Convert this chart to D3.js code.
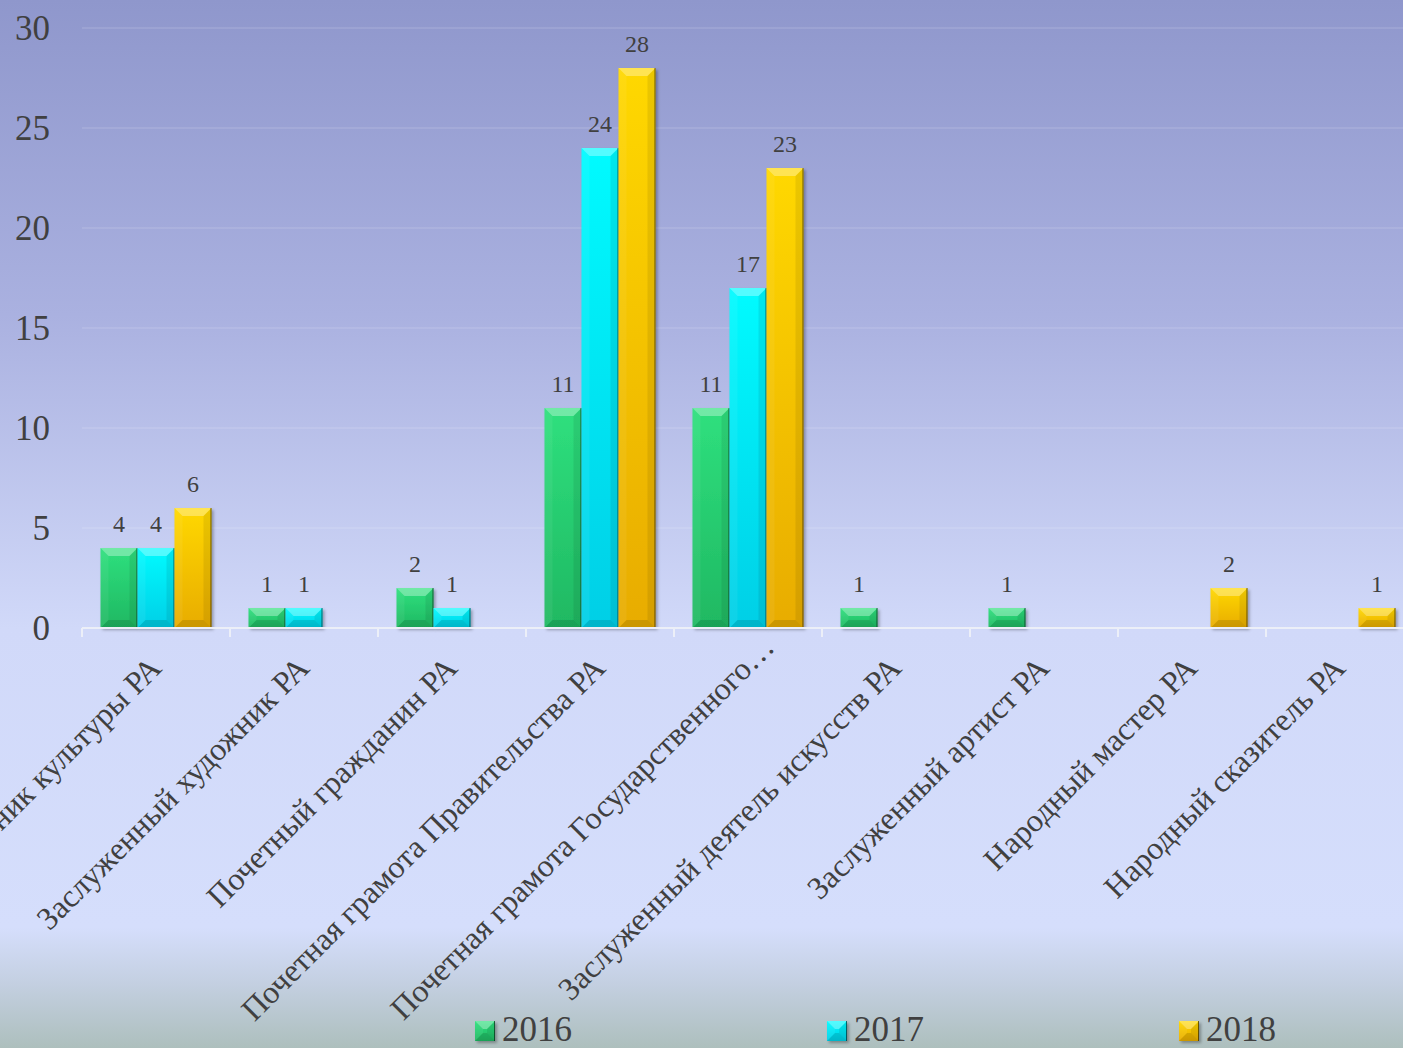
<!DOCTYPE html>
<html>
<head>
<meta charset="utf-8">
<script src="https://cdn.jsdelivr.net/npm/d3@7"></script>
<style>
  html, body { margin: 0; padding: 0; overflow: hidden; }
  svg { display: block; font-family: "Liberation Serif", "Times New Roman", serif; }
</style>
</head>
<body>
<div id="chart"></div>
<script>
// data
const categories = [
  "Заслуженный работник культуры РА",
  "Заслуженный художник РА",
  "Почетный гражданин РА",
  "Почетная грамота Правительства РА",
  "Почетная грамота Государственного…",
  "Заслуженный деятель искусств РА",
  "Заслуженный артист РА",
  "Народный мастер РА",
  "Народный сказитель РА"
];
const years = ["2016", "2017", "2018"];
const values2016 = [4, 1, 2, 11, 11, 1, 1, null, null];
const values2017 = [4, 1, 1, 24, 17, null, null, null, null];
const values2018 = [6, null, null, 28, 23, null, null, 2, 1];
const yTicks = [0, 5, 10, 15, 20, 25, 30];

const width = 1403;
const height = 1048;
const plot = { left: 82, top: 28, bottom: 628, step: 148 };

const seriesColors = {
  "2016": { top: "#2fe07e", bottom: "#1fb862" },
  "2017": { top: "#00fbff", bottom: "#00cfe6" },
  "2018": { top: "#ffd800", bottom: "#e8ac00" }
};

const series = years.map((yr, i) => ({
  year: yr,
  values: [values2016, values2017, values2018][i]
}));

const svg = d3.select("#chart")
  .append("svg")
  .attr("width", width)
  .attr("height", height);

const defs = svg.append("defs");

// background
const bg = defs.append("linearGradient")
  .attr("id", "bg")
  .attr("x1", 0).attr("y1", 0).attr("x2", 0).attr("y2", 1);
[[0, "#8f97cc"], [0.3, "#aab1e0"], [0.6, "#d1d9f9"], [0.885, "#d5defc"], [0.94, "#c3cfe0"], [1, "#adbfbd"]]
  .forEach(([o, c]) => bg.append("stop").attr("offset", o).attr("stop-color", c));

years.forEach(yr => {
  const g = defs.append("linearGradient")
    .attr("id", "grad" + yr)
    .attr("x1", 0).attr("y1", 0).attr("x2", 0).attr("y2", 1);
  g.append("stop").attr("offset", 0).attr("stop-color", seriesColors[yr].top);
  g.append("stop").attr("offset", 1).attr("stop-color", seriesColors[yr].bottom);
});

const shadow = defs.append("filter")
  .attr("id", "shadow")
  .attr("x", "-20%").attr("y", "-20%").attr("width", "150%").attr("height", "150%");
shadow.append("feDropShadow")
  .attr("dx", 2).attr("dy", 2)
  .attr("stdDeviation", 1.5)
  .attr("flood-color", "#000")
  .attr("flood-opacity", 0.3);

svg.append("rect")
  .attr("width", width)
  .attr("height", height)
  .attr("fill", "url(#bg)");

// scales
const x = d3.scaleBand()
  .domain(categories)
  .range([plot.left, plot.left + categories.length * plot.step])
  .paddingInner(0.25)
  .paddingOuter(0.125);

const x1 = d3.scaleBand()
  .domain(years)
  .range([0, x.bandwidth()]);

const y = d3.scaleLinear()
  .domain([0, 30])
  .range([plot.bottom, plot.top]);

// gridlines
svg.append("g")
  .selectAll("line")
  .data(yTicks.filter(d => d > 0))
  .join("line")
  .attr("x1", plot.left)
  .attr("x2", width)
  .attr("y1", d => y(d))
  .attr("y2", d => y(d))
  .attr("stroke", "#ffffff")
  .attr("stroke-opacity", 0.1)
  .attr("stroke-width", 2);

// y axis labels
const yAxis = svg.append("g")
  .attr("transform", `translate(${plot.left - 32},0)`)
  .call(d3.axisLeft(y).tickValues(yTicks).tickSize(0).tickPadding(0));
yAxis.select(".domain").remove();
yAxis.selectAll("text")
  .attr("font-family", "Liberation Serif, Times New Roman, serif")
  .attr("font-size", 35)
  .attr("fill", "#404040");

// bars
function bevelBar(g, x0, y0, w, h, fillId) {
  const b = Math.min(8, h / 2, w / 2);
  g.append("rect")
    .attr("x", x0).attr("y", y0)
    .attr("width", w).attr("height", h)
    .attr("fill", `url(#${fillId})`)
    .attr("filter", "url(#shadow)");
  // top bevel
  g.append("polygon")
    .attr("points", [[x0, y0], [x0 + w, y0], [x0 + w - b, y0 + b], [x0 + b, y0 + b]].join(" "))
    .attr("fill", "#ffffff").attr("fill-opacity", 0.32);
  // left bevel
  g.append("polygon")
    .attr("points", [[x0, y0], [x0 + b, y0 + b], [x0 + b, y0 + h - b], [x0, y0 + h]].join(" "))
    .attr("fill", "#ffffff").attr("fill-opacity", 0.06);
  // right bevel
  g.append("polygon")
    .attr("points", [[x0 + w, y0], [x0 + w, y0 + h], [x0 + w - b, y0 + h - b], [x0 + w - b, y0 + b]].join(" "))
    .attr("fill", "#000000").attr("fill-opacity", 0.08);
  // bottom bevel
  g.append("polygon")
    .attr("points", [[x0, y0 + h], [x0 + b, y0 + h - b], [x0 + w - b, y0 + h - b], [x0 + w, y0 + h]].join(" "))
    .attr("fill", "#000000").attr("fill-opacity", 0.12);
  // dark right edge
  g.append("line")
    .attr("x1", x0 + w - 0.5).attr("x2", x0 + w - 0.5)
    .attr("y1", y0).attr("y2", y0 + h)
    .attr("stroke", "#000").attr("stroke-opacity", 0.55).attr("stroke-width", 1);
}

const barLayer = svg.append("g");
series.forEach(s => {
  s.values.forEach((v, i) => {
    if (v == null) return;
    const x0 = x(categories[i]) + x1(s.year);
    bevelBar(barLayer.append("g"), x0, y(v), x1.bandwidth(), y(0) - y(v), "grad" + s.year);
  });
});

// axis line with category ticks
const axisG = svg.append("g");
axisG.append("line")
  .attr("x1", plot.left).attr("x2", width)
  .attr("y1", y(0)).attr("y2", y(0))
  .attr("stroke", "#eceff8").attr("stroke-width", 2);
axisG.selectAll(".tick")
  .data(categories)
  .join("line")
  .attr("class", "tick")
  .attr("x1", d => x(d) - x.step() * x.paddingInner() / 2)
  .attr("x2", d => x(d) - x.step() * x.paddingInner() / 2)
  .attr("y1", y(0))
  .attr("y2", y(0) + 9)
  .attr("stroke", "#eceff8").attr("stroke-width", 2);

// value labels
const labelLayer = svg.append("g");
series.forEach(s => {
  labelLayer.selectAll(null)
    .data(s.values.map((v, i) => ({ v, c: categories[i] })).filter(d => d.v != null))
    .join("text")
    .attr("x", d => x(d.c) + x1(s.year) + x1.bandwidth() / 2)
    .attr("y", d => y(d.v) - 16)
    .attr("text-anchor", "middle")
    .attr("font-size", 24)
    .attr("fill", "#404040")
    .text(d => d.v);
});

// category labels (truncated ones sit a little further along the diagonal)
svg.append("g")
  .selectAll("text")
  .data(categories)
  .join("text")
  .attr("transform", d => `translate(${x(d) + x.bandwidth() / 2 + 7},${y(0) + 42}) rotate(-45)`)
  .attr("dx", d => d.endsWith("…") ? 30 : 0)
  .attr("text-anchor", "end")
  .attr("font-size", 32)
  .attr("fill", "#404040")
  .text(d => d);

// legend
const legend = svg.append("g")
  .attr("transform", "translate(475,1021)");
const item = legend.selectAll("g")
  .data(years)
  .join("g")
  .attr("transform", (d, i) => `translate(${i * 352},0)`);
item.each(function (d) {
  bevelBar(d3.select(this), 0, 0, 20, 20, "grad" + d);
});
item.append("text")
  .attr("x", 27)
  .attr("y", 20)
  .attr("font-size", 35)
  .attr("fill", "#404040")
  .text(d => d);
</script>
</body>
</html>
